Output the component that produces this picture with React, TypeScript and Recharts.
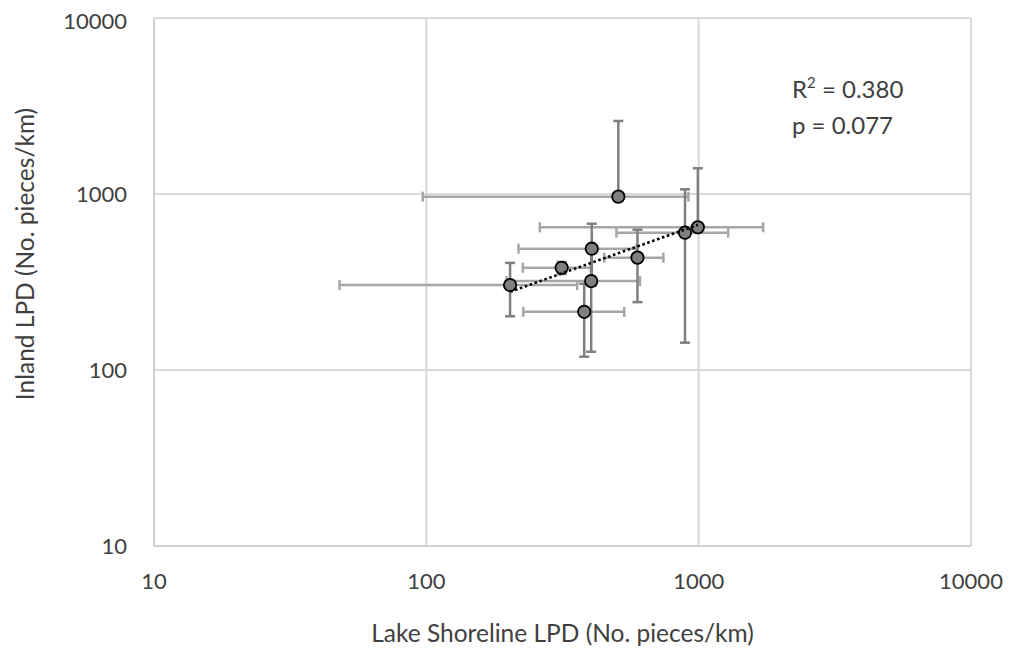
import React from "react";
import { ScatterChart, Scatter, XAxis, YAxis, CartesianGrid, ErrorBar, Label } from "recharts";

// Lake shoreline LPD (x) vs inland LPD (y), No. pieces/km
const lakeLPD = [507, 891, 993, 405, 596, 314, 403, 380, 203];
const inlandLPD = [966, 603, 647, 489, 435, 381, 320, 214, 304];
const lakeErr = [410, 392, 732, 187, 146, 88, 206, 153, 155];
const inlandErr = [1634, 460, 753, 189, 192, 30, 193, 95, 102];

// power trendline end points
const trendX = [203, 993];
const trendY = [278, 668];

const axisTicks = [10, 100, 1000, 10000];

const points = lakeLPD.map((x, i) => ({
  x,
  y: inlandLPD[i],
  // Excel hides the part of an error bar that would go below zero on a log axis
  ex: [lakeErr[i] < x ? lakeErr[i] : 0, lakeErr[i]],
  ey: [inlandErr[i] < inlandLPD[i] ? inlandErr[i] : 0, inlandErr[i]],
}));
const trend = trendX.map((x, i) => ({ x, y: trendY[i] }));

const FONT = "Lato, 'Open Sans', sans-serif";
const TEXT = "#404040";

const Marker = (props: any) => {
  if (props.cx == null || props.cy == null) return <g />;
  return <circle cx={props.cx} cy={props.cy} r={6.2} fill="#7f7f7f" stroke="#000" strokeWidth={1.8} />;
};

export default function App() {
  return (
    <div style={{ position: "relative", width: 1005, height: 653, fontFamily: FONT }}>
      <ScatterChart width={1005} height={653} margin={{ top: 10, right: 42, bottom: 0, left: 0 }}>
        <CartesianGrid stroke="#d9d9d9" strokeWidth={2} />
        <XAxis
          type="number"
          dataKey="x"
          scale="log"
          domain={[10, 10000]}
          ticks={axisTicks}
          allowDataOverflow
          height={115}
          axisLine={{ stroke: "#d0d0d0", strokeWidth: 2 }}
          tickLine={false}
          tickSize={6}
          tickMargin={21}
          tick={{ fontSize: 22, fill: TEXT, fontFamily: FONT }}
        >
          <Label
            value="Lake Shoreline LPD (No. pieces/km)"
            position="insideBottom"
            offset={19}
            style={{ fontSize: 24.5, fill: TEXT, fontFamily: FONT }}
          />
        </XAxis>
        <YAxis
          type="number"
          dataKey="y"
          scale="log"
          domain={[10, 10000]}
          ticks={axisTicks}
          allowDataOverflow
          width={146}
          axisLine={{ stroke: "#d0d0d0", strokeWidth: 2 }}
          tickLine={false}
          tickSize={6}
          tickMargin={21}
          tick={{ fontSize: 22, fill: TEXT, fontFamily: FONT }}
        >
          <Label
            content={(p: any) => {
              const vb = p.viewBox || {};
              const cx = 16;
              const cy = (vb.y ?? 10) + (vb.height ?? 528) / 2 - 28;
              return (
                <text
                  x={cx}
                  y={cy}
                  transform={`rotate(-90, ${cx}, ${cy})`}
                  textAnchor="middle"
                  dominantBaseline="central"
                  style={{ fontSize: 24.5, fill: TEXT, fontFamily: FONT }}
                >
                  Inland LPD (No. pieces/km)
                </text>
              );
            }}
          />
        </YAxis>
        <Scatter data={points} shape={Marker} isAnimationActive={false} legendType="none">
          <ErrorBar dataKey="ex" direction="x" width={5} stroke="#a6a6a6" strokeWidth={2.5} isAnimationActive={false} />
          <ErrorBar dataKey="ey" direction="y" width={5} stroke="#7f7f7f" strokeWidth={2.5} isAnimationActive={false} />
        </Scatter>
        <Scatter
          data={trend}
          shape={() => <g />}
          line={{ stroke: "#000", strokeWidth: 2.6, strokeDasharray: "2.6 2.6" }}
          isAnimationActive={false}
          legendType="none"
        />
      </ScatterChart>
      <div
        style={{
          position: "absolute",
          left: 784,
          top: 63,
          fontSize: 24,
          lineHeight: "36px",
          color: TEXT,
          fontFamily: FONT,
          whiteSpace: "nowrap",
        }}
      >
        <div>
          R<sup style={{ fontSize: 15, verticalAlign: "top", lineHeight: "22px" }}>2</sup> = 0.380
        </div>
        <div>p = 0.077</div>
      </div>
    </div>
  );
}
